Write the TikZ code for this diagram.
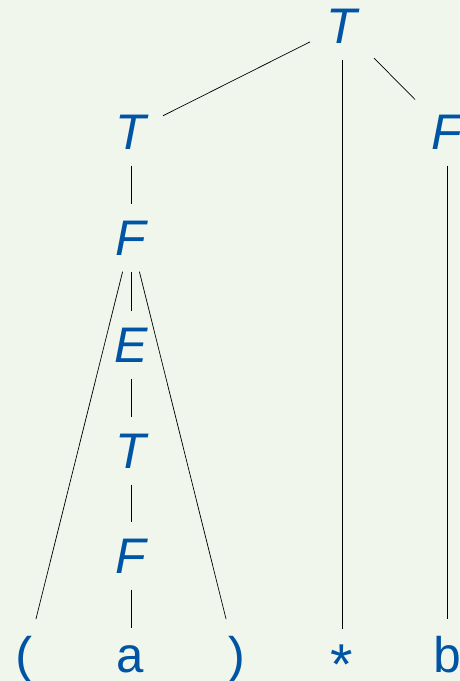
\documentclass[tikz,border=0pt]{standalone}
\usepackage{graphicx}
\usepackage{fontspec}
\setmainfont{Liberation Sans}
\newfontfamily\monofont{Liberation Mono}
\definecolor{bg}{RGB}{240,246,235}
\definecolor{nt}{RGB}{0,84,164}
\begin{document}
\begin{tikzpicture}[x=1pt,y=-1pt,
  sym/.style={inner sep=16.5pt, anchor=base, text=nt, font=\fontsize{50}{60}\selectfont\itshape},
  term/.style={inner sep=16.5pt, anchor=base, text=nt, font=\fontsize{50}{60}\selectfont\monofont},
  edge/.style={line width=0.7pt, black}]
\fill[bg] (0,0) rectangle (460,681);
\useasboundingbox (0,0) rectangle (460,681);
\node[sym] (r)  at (342,43)  {T};
\node[sym] (t1) at (131,149) {T};
\node[sym] (f1) at (447,149) {F};
\node[sym] (f2) at (131,255) {F};
\node[sym] (e)  at (131,362) {E};
\node[sym] (t3) at (131,468) {T};
\node[sym] (f3) at (131,573) {F};
\node[term] (p1) at (26,672)  {(};
\node[term] (a)  at (131,672) {a};
\node[term] (p2) at (236,672) {)};
\node[term] (st) at (342,672) {\raisebox{-14pt}[26pt][0pt]{\scalebox{1.15}{*}}};
\node[term] (b)  at (447,672) {b};
\draw[edge] (r) -- (t1);
\draw[edge] (r) -- (st);
\draw[edge] (r) -- (f1);
\draw[edge] (f1) -- (b);
\draw[edge] (t1) -- (f2);
\draw[edge] (f2) -- (p1);
\draw[edge] (f2) -- (e);
\draw[edge] (f2) -- (p2);
\draw[edge] (e) -- (t3);
\draw[edge] (t3) -- (f3);
\draw[edge] (f3) -- (a);
\end{tikzpicture}
\end{document}
